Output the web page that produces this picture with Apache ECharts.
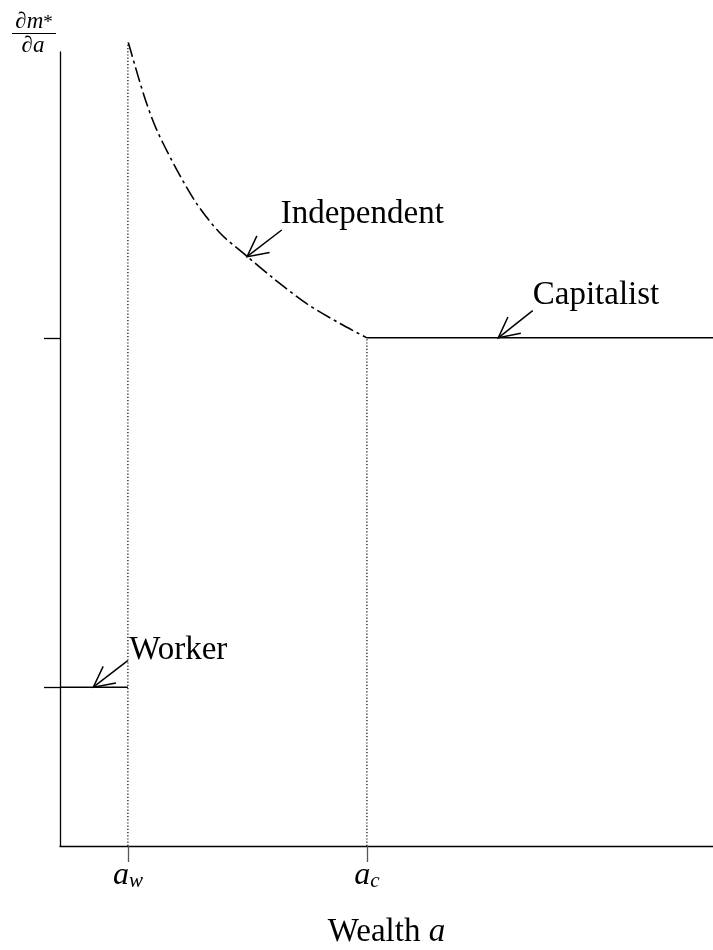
<!DOCTYPE html>
<html>
<head>
<meta charset="utf-8">
<script src="https://cdn.jsdelivr.net/npm/echarts@6/dist/echarts.min.js"></script>
<style>
html,body{margin:0;padding:0;background:#fff;}
#chart{width:713px;height:950px;}
</style>
</head>
<body>
<div id="chart"></div>
<script>
// ---- data ----
const tickX = [10.4, 47.0];            // a_w, a_c
const tickBase = ['a', 'a'];
const tickSub = ['w', 'c'];
const yTicks = [20, 64];               // worker level, capitalist level
const workerX = [0, 10.4];
const workerY = [20, 20];
const capitalistX = [47.0, 100];
const capitalistY = [64, 64];
const independentX = [10.46, 12.91, 14.81, 17.87, 20.93, 24.50, 28.59, 32.66, 37.78, 42.88, 47.0];
const independentY = [101.2, 94.4, 90.2, 85.2, 80.9, 77.2, 74.3, 71.5, 68.3, 65.8, 64.0];
const labelNames = ['Worker', 'Independent', 'Capitalist'];
const arrowTailX = [10.37, 33.95, 72.39];
const arrowTailY = [23.34, 77.58, 67.42];
const arrowTipX = [5.10, 28.64, 67.12];
const arrowTipY = [20.0, 74.22, 64.0];
const labelX = [10.6, 33.8, 72.4];
const labelY = [23.4, 78.3, 68.1];
const xName = ['Wealth ', 'a'];
const yNameNum = ['∂m', '*'];
const yNameDen = '∂a';

const FONT = "'Liberation Serif', 'DejaVu Serif', serif";

const pairs = (xs, ys) => xs.map((x, i) => [x, ys[i]]);
const arrowData = labelNames.map((n, i) => [arrowTailX[i], arrowTailY[i], arrowTipX[i], arrowTipY[i], labelX[i], labelY[i]]);

const chart = echarts.init(document.getElementById('chart'), null, {renderer: 'canvas'});

const option = {
  animation: false,
  backgroundColor: '#fff',
  grid: {left: 60, right: 0, top: 52, bottom: 104, containLabel: false, outerBoundsMode: 'none'},
  xAxis: {
    type: 'value', min: 0, max: 100,
    splitLine: {show: false},
    axisLine: {show: true, onZero: false, lineStyle: {color: '#000', width: 1.3}},
    axisTick: {show: true, inside: false, length: 16, customValues: tickX, lineStyle: {color: '#555', width: 1.3}},
    axisLabel: {
      show: true, customValues: tickX, margin: 16,
      formatter: function (v) {
        const i = tickX.indexOf(v);
        return i < 0 ? '' : '{b|' + tickBase[i] + '}{s|' + tickSub[i] + '}';
      },
      rich: {
        b: {fontFamily: FONT, fontStyle: 'italic', fontSize: 32, color: '#000', lineHeight: 30, verticalAlign: 'bottom'},
        s: {fontFamily: FONT, fontStyle: 'italic', fontSize: 21, color: '#000', lineHeight: 10, verticalAlign: 'bottom'}
      }
    },
    name: '{t|' + xName[0] + '}{i|' + xName[1] + '}',
    nameLocation: 'middle', nameGap: 70,
    nameTextStyle: {
      rich: {
        t: {fontFamily: FONT, fontSize: 33, color: '#000'},
        i: {fontFamily: FONT, fontSize: 33, fontStyle: 'italic', color: '#000'}
      }
    }
  },
  yAxis: {
    type: 'value', min: 0, max: 100,
    splitLine: {show: false},
    axisLine: {show: true, onZero: false, lineStyle: {color: '#000', width: 1.3}},
    axisTick: {show: true, inside: false, length: 16, customValues: yTicks, lineStyle: {color: '#000', width: 1.3}},
    axisLabel: {show: false}
  },
  graphic: [
    {type: 'text', x: 34, y: 33, style: {
      text: '{i|' + yNameNum[0] + '}{s|' + yNameNum[1] + '}', align: 'center', textAlign: 'center', verticalAlign: 'bottom', textVerticalAlign: 'bottom',
      rich: {
        i: {fontFamily: FONT, fontStyle: 'italic', fontSize: 23, fill: '#000', color: '#000', lineHeight: 23, verticalAlign: 'bottom'},
        s: {fontFamily: FONT, fontSize: 19, fill: '#000', color: '#000', lineHeight: 36, verticalAlign: 'bottom'}
      }
    }},
    {type: 'line', shape: {x1: 12, y1: 33.5, x2: 56, y2: 33.5}, style: {stroke: '#000', lineWidth: 1.1}},
    {type: 'text', x: 33, y: 57, style: {
      text: yNameDen, font: 'italic 23px ' + FONT, fill: '#000', align: 'center', textAlign: 'center', verticalAlign: 'bottom', textVerticalAlign: 'bottom'
    }}
  ],
  series: [
    {
      type: 'line', data: pairs(workerX, workerY), showSymbol: false, clip: false,
      lineStyle: {color: '#000', width: 1.5}
    },
    {
      type: 'line', data: pairs(capitalistX, capitalistY), showSymbol: false, clip: false,
      lineStyle: {color: '#000', width: 1.5}
    },
    {
      type: 'line', data: pairs(independentX, independentY), showSymbol: false, clip: false, smooth: 0.3,
      lineStyle: {color: '#000', width: 1.6, type: [15, 4, 3, 4]}
    },
    {
      type: 'line', data: [[tickX[0], 0], [tickX[0], independentY[0]]], showSymbol: false, clip: false,
      lineStyle: {color: '#000', width: 1.2, type: [1.2, 2]}
    },
    {
      type: 'line', data: [[tickX[1], 0], [tickX[1], capitalistY[0]]], showSymbol: false, clip: false,
      lineStyle: {color: '#000', width: 1.2, type: [1.2, 2]}
    },
    {
      type: 'custom', data: arrowData, clip: false,
      renderItem: function (params, api) {
        const tail = api.coord([api.value(0), api.value(1)]);
        const tip = api.coord([api.value(2), api.value(3)]);
        const lab = api.coord([api.value(4), api.value(5)]);
        const ang = Math.atan2(tail[1] - tip[1], tail[0] - tip[0]);
        const L = 23, s = 27 * Math.PI / 180;
        const b1 = [tip[0] + L * Math.cos(ang - s), tip[1] + L * Math.sin(ang - s)];
        const b2 = [tip[0] + L * Math.cos(ang + s), tip[1] + L * Math.sin(ang + s)];
        return {
          type: 'group',
          children: [
            {type: 'line', shape: {x1: tail[0], y1: tail[1], x2: tip[0], y2: tip[1]}, style: {stroke: '#000', lineWidth: 1.5}},
            {type: 'polyline', shape: {points: [b1, tip, b2]}, style: {stroke: '#000', fill: null, lineWidth: 1.5}},
            {type: 'text', x: lab[0], y: lab[1] + 7, style: {
              text: labelNames[params.dataIndex], font: '33px ' + FONT, fill: '#000',
              align: 'left', textAlign: 'left', verticalAlign: 'bottom', textVerticalAlign: 'bottom'
            }}
          ]
        };
      }
    }
  ]
};
chart.setOption(option);
</script>
</body>
</html>
